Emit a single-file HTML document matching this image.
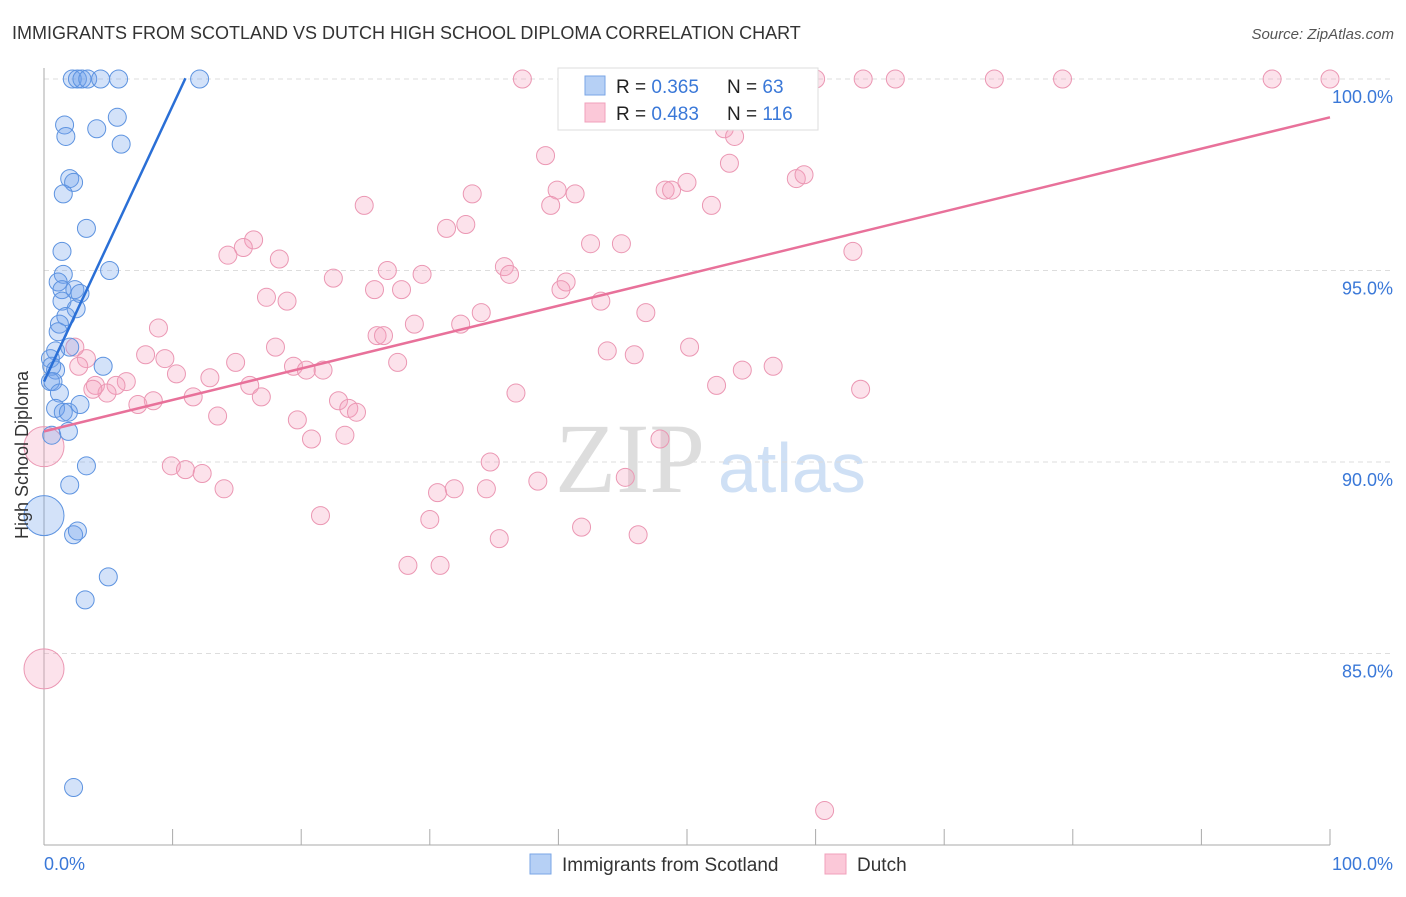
<!DOCTYPE html>
<html><head><meta charset="utf-8"><style>
body{margin:0;background:#fff;font-family:"Liberation Sans",sans-serif}
svg text{font-family:"Liberation Sans",sans-serif}
</style></head><body>
<svg id="c" width="1406" height="892" xmlns="http://www.w3.org/2000/svg">
<text x="12" y="39" font-size="18" fill="#333">IMMIGRANTS FROM SCOTLAND VS DUTCH HIGH SCHOOL DIPLOMA CORRELATION CHART</text>
<text x="1394" y="39" font-size="15" fill="#555" text-anchor="end" font-style="italic">Source: ZipAtlas.com</text>
<text x="555" y="492" font-size="100" fill="#ddd" style="font-family:'Liberation Serif',serif">ZIP</text>
<text x="718" y="492" font-size="70" fill="#cfe0f5">atlas</text>
<g id="grid"></g><g id="axes"></g><g id="pts"></g><g id="lines"></g>
<text transform="translate(28,455) rotate(-90)" font-size="18" fill="#333" text-anchor="middle">High School Diploma</text>
<g>
<rect x="558" y="68" width="260" height="62" fill="#fff" stroke="#ddd"/>
<rect x="585" y="76" width="20" height="19" fill="#b6d0f5" stroke="#7aa6e6"/>
<rect x="585" y="103" width="20" height="19" fill="#fbc8d8" stroke="#f0a0bb"/>
<text x="616" y="93" font-size="19" fill="#222">R = <tspan fill="#3a78d8">0.365</tspan></text>
<text x="727" y="93" font-size="19" fill="#222">N = <tspan fill="#3a78d8"> 63</tspan></text>
<text x="616" y="120" font-size="19" fill="#222">R = <tspan fill="#3a78d8">0.483</tspan></text>
<text x="727" y="120" font-size="19" fill="#222">N = <tspan fill="#3a78d8">116</tspan></text>
</g>
<g>
<rect x="530" y="854" width="21" height="20" fill="#b6d0f5" stroke="#7aa6e6"/>
<text x="562" y="871" font-size="19" fill="#333">Immigrants from Scotland</text>
<rect x="825" y="854" width="21" height="20" fill="#fbc8d8" stroke="#f0a0bb"/>
<text x="857" y="871" font-size="19" fill="#333">Dutch</text>
</g>
<text x="44" y="870" font-size="18" fill="#3a78d8">0.0%</text>
<text x="1393" y="870" font-size="18" fill="#3a78d8" text-anchor="end">100.0%</text>
</svg>
<script>
const yTicks=[100,95,90,85];
const yTickLabels=["100.0%","95.0%","90.0%","85.0%"];
const xTicks=[0,10,20,30,40,50,60,70,80,90,100];
const blueX=[2.2,2.6,2.95,3.4,4.4,5.8,12.1,1.6,1.7,4.1,5.7,6.0,2.0,2.3,1.5,3.3,1.4,5.1,1.5,1.1,1.4,2.4,2.8,1.4,2.5,1.7,1.2,1.1,2.0,0.9,0.5,4.6,0.6,0.9,0.5,0.7,1.2,0.9,1.5,1.9,2.8,1.9,0.6,3.3,2.0,2.3,2.6,5.0,3.2,2.3];
const blueY=[100,100,100,100,100,100,100,98.8,98.5,98.7,99.0,98.3,97.4,97.3,97.0,96.1,95.5,95.0,94.9,94.7,94.5,94.5,94.4,94.2,94.0,93.8,93.6,93.4,93.0,92.9,92.7,92.5,92.5,92.4,92.1,92.1,91.8,91.4,91.3,91.3,91.5,90.8,90.7,89.9,89.4,88.1,88.2,87.0,86.4,81.5];
const bigBlueX=[0];const bigBlueY=[88.6];
const pinkX=[37.2,50.5,60.0,63.7,66.2,73.9,79.2,95.5,100,39.0,52.9,53.7,53.3,24.9,33.3,39.9,41.3,39.4,48.3,48.8,50.0,51.9,58.5,59.1,31.3,32.8,16.3,15.5,14.3,18.3,42.5,44.9,62.9,22.5,26.7,29.4,35.8,36.2,27.8,25.7,40.6,40.2,17.3,18.9,43.3,34.0,32.4,28.8,46.8,8.9,25.9,26.4,18.0,27.5,43.8,45.9,50.2,7.9,9.4,14.9,3.3,2.4,2.7,10.3,12.9,19.4,20.4,21.7,54.3,56.7,6.4,4.0,5.6,4.9,3.8,16.0,11.6,8.5,7.3,36.7,52.3,63.5,16.9,22.9,23.7,24.3,13.5,19.7,23.4,20.8,47.9,9.9,11.0,12.3,14.0,34.7,30.6,31.9,34.4,38.4,45.2,21.5,30.0,35.4,41.8,46.2,28.3,30.8,60.7];
const pinkY=[100,100,100,100,100,100,100,100,100,98.0,98.7,98.5,97.8,96.7,97.0,97.1,97.0,96.7,97.1,97.1,97.3,96.7,97.4,97.5,96.1,96.2,95.8,95.6,95.4,95.3,95.7,95.7,95.5,94.8,95.0,94.9,95.1,94.9,94.5,94.5,94.7,94.5,94.3,94.2,94.2,93.9,93.6,93.6,93.9,93.5,93.3,93.3,93.0,92.6,92.9,92.8,93.0,92.8,92.7,92.6,92.7,93.0,92.5,92.3,92.2,92.5,92.4,92.4,92.4,92.5,92.1,92.0,92.0,91.8,91.9,92.0,91.7,91.6,91.5,91.8,92.0,91.9,91.7,91.6,91.4,91.3,91.2,91.1,90.7,90.6,90.6,89.9,89.8,89.7,89.3,90.0,89.2,89.3,89.3,89.5,89.6,88.6,88.5,88.0,88.3,88.1,87.3,87.3,80.9];
const bigPinkX=[0,0];const bigPinkY=[90.4,84.6];
const blueTrend=[92.1,0.72];
const blueTrendEnd=[11.0];
const pinkTrend=[90.8,0.082];

const X0=44,X1=1330,Y100=79,Y80=845;
const sx=v=>X0+(X1-X0)*v/100;
const sy=v=>Y100+(100-v)*(Y80-Y100)/20;
const NS="http://www.w3.org/2000/svg";
function mk(tag,parent,attrs){const e=document.createElementNS(NS,tag);for(const k in attrs)e.setAttribute(k,attrs[k]);document.getElementById(parent).appendChild(e);return e;}
yTicks.forEach((t,i)=>{
  const g=mk('line','grid',{x1:X0,x2:1393,y1:sy(t),y2:sy(t),stroke:'#ddd','stroke-dasharray':'5,4'});
  
  
  const tx=mk('text','grid',{x:1393,y:sy(t)+24,'font-size':18,fill:'#3a78d8','text-anchor':'end'});
  tx.textContent=yTickLabels[i];
  
  
});
let a=mk('line','axes',{x1:X0,x2:X0,y1:68,y2:Y80,stroke:'#aaa'});


a=mk('line','axes',{x1:X0,x2:X1,y1:Y80,y2:Y80,stroke:'#aaa'});


xTicks.forEach(t=>{
  const l=mk('line','axes',{x1:sx(t),x2:sx(t),y1:829,y2:Y80,stroke:'#aaa'});
  
  
});
function dots(xs,ys,r,fill,stroke,name){
  xs.forEach((v,i)=>{
    const c=mk('circle','pts',{cx:sx(v),cy:sy(ys[i]),r:r,fill:fill,stroke:stroke,'stroke-width':1});
    
    
  });
}
dots(pinkX,pinkY,9,'rgba(244,160,190,0.3)','#eb97b3','dutch-point');
dots(bigPinkX,bigPinkY,20,'rgba(244,160,190,0.3)','#eb97b3','dutch-point-large');
dots(blueX,blueY,9,'rgba(110,160,235,0.3)','#5d93e0','scotland-point');
dots(bigBlueX,bigBlueY,20,'rgba(110,160,235,0.3)','#5d93e0','scotland-point-large');
let l=mk('line','lines',{x1:sx(0),y1:sy(blueTrend[0]),x2:sx(blueTrendEnd[0]),y2:sy(blueTrend[0]+blueTrend[1]*blueTrendEnd[0]),stroke:'#2a6fd6','stroke-width':2.5});


l=mk('line','lines',{x1:sx(0),y1:sy(pinkTrend[0]),x2:sx(100),y2:sy(pinkTrend[0]+pinkTrend[1]*100),stroke:'#e8719a','stroke-width':2.5});


</script>
</body></html>
